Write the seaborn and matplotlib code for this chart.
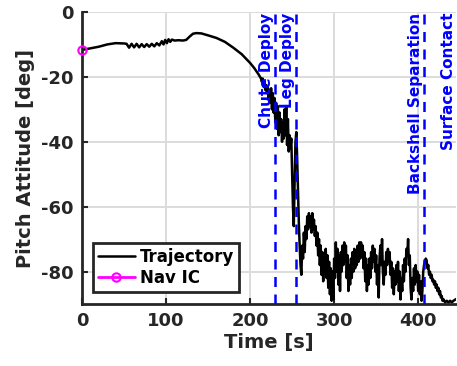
import numpy as np
import pandas as pd
import matplotlib
matplotlib.use("Agg")
import matplotlib.pyplot as plt
import seaborn as sns

# Trajectory: time [s] and pitch attitude [deg]
time_s = [0, 10, 20, 30, 40, 50, 53, 56, 59, 62, 65, 68, 71, 74, 77, 80, 83, 86, 89, 92, 95, 97, 99,
          101, 103, 105, 107, 110, 115, 120, 124, 128, 132, 136, 142, 150, 160, 170, 180, 190, 200,
          205, 210, 213,
          214, 215, 216, 217, 218, 219, 220, 221, 222, 223, 224, 225, 226, 227, 228, 229, 230, 231,
          232, 233, 234, 235, 236, 237, 238, 239, 240, 241, 242, 243, 244, 245, 246, 247, 248, 249,
          250, 251, 252, 253, 254, 255, 256, 257, 258, 259, 260, 261, 262, 263, 264, 265, 266, 267,
          268, 269, 270, 271, 272, 273, 274, 275, 276, 277, 278, 279, 280, 281, 282, 283, 284, 285,
          286, 287, 288, 289, 290, 291, 292, 293, 294, 295, 296, 297, 298, 299, 300, 301, 302, 303,
          304, 305, 306, 307, 308, 309, 310, 311, 312, 313, 314, 315, 316, 317, 318, 319, 320, 321,
          322, 323, 324, 325, 326, 327, 328, 329, 330, 331, 332, 333, 334, 335, 336, 337, 338, 339,
          340, 341, 342, 343, 344, 345, 346, 347, 348, 349, 350, 351, 352, 353, 354, 355, 356, 357,
          358, 359, 360, 361, 362, 363, 364, 365, 366, 367, 368, 369, 370, 371, 372, 373, 374, 375,
          376, 377, 378, 379, 380, 381, 382, 383, 384, 385, 386, 387, 388, 389, 390, 391, 392, 393,
          394, 395, 396, 397, 398, 399, 400, 401, 402, 403, 404, 405, 406, 407, 408, 409, 410, 411,
          412, 413, 414, 415, 416, 417, 418, 419, 420, 421, 422, 423, 424, 425, 426, 427, 428, 429,
          430, 432, 434, 436, 438, 440, 442, 445]
pitch_deg = [-11.7, -11.2, -10.7, -10.0, -9.6, -9.7, -9.8, -11.0, -9.8, -10.9, -9.8, -10.9, -9.9,
             -10.8, -9.9, -10.7, -9.8, -10.6, -9.6, -10.3, -9.0, -10.0, -8.6,
             -9.6, -8.4, -9.2, -8.5, -8.8, -8.7, -8.8, -8.6, -7.6, -6.7, -6.5, -6.6, -7.2, -8.0,
             -9.2, -11.0, -13.0, -15.7, -17.3, -19.2, -20.5,
             -21.5, -20.5, -23, -21.5, -24, -22.5, -25, -23, -26.5, -24, -28, -23.5, -30, -25, -31,
             -26.5, -34, -28, -36, -29, -38, -31, -37, -33, -40, -34, -39, -30, -38, -29, -41, -33,
             -43, -38, -42, -39,
             -50, -60, -66, -52, -40, -37, -45, -55, -65, -72, -78, -81, -72, -76, -68, -74, -66,
             -70, -63, -67, -62, -66, -63, -68, -62, -67, -64, -69, -66, -72, -68, -75, -70, -78,
             -72, -81, -74, -83, -76, -80, -73, -82, -75, -85, -77, -87, -79, -89, -80, -88.6, -76,
             -82, -71, -80, -73, -84, -75, -86, -74, -80, -72, -78, -71, -77, -72, -82, -75, -86,
             -78, -84, -76, -82, -74, -80, -73, -79, -74, -78, -72, -77, -71, -76, -71, -75, -72,
             -79, -74, -83, -76, -86, -78, -84, -76, -82, -74, -79, -72, -77, -73, -80, -75, -84,
             -78, -88, -76, -72, -78, -70, -80, -84, -77, -81, -74, -78, -73, -77, -74, -81, -77,
             -85, -79, -87, -80, -84, -78, -83, -77, -86, -80, -88.6, -82, -86, -78, -83, -76, -80,
             -73, -75, -70, -78, -75, -85, -88.6, -82, -86, -79, -84, -78, -83, -80, -86, -81, -87,
             -83, -89, -86, -80, -78, -77, -76, -76.5, -79, -78, -81, -80, -82, -81, -83, -82.5,
             -84, -83, -85, -84, -86, -85, -87, -86, -88, -87.5, -89, -88.5, -89.5, -89, -89.5,
             -89, -89.5, -89, -88.5]

nav_ic_time = [0]
nav_ic_pitch = [-11.7]

event_times = [230, 255, 407, 446]
event_labels = ["Chute Deploy", "Leg Deploy", "Backshell Separation", "Surface Contact"]

x_ticks = [0, 100, 200, 300, 400]
y_ticks = [0, -20, -40, -60, -80]

df = pd.DataFrame({"Time": time_s, "Pitch": pitch_deg})
df_ic = pd.DataFrame({"Time": nav_ic_time, "Pitch": nav_ic_pitch})

sns.set_style("whitegrid")
plt.rcParams["font.family"] = ["DejaVu Sans"]
dark = "#262626"

fig = plt.figure(figsize=(4.57, 3.66), dpi=100)
ax = fig.add_axes([82 / 457, 1 - 304 / 366, 374 / 457, 292 / 366])

sns.lineplot(data=df, x="Time", y="Pitch", ax=ax, color="black", linewidth=1.8,
             estimator=None, sort=False, label="Trajectory")
sns.lineplot(data=df_ic, x="Time", y="Pitch", ax=ax, color="magenta", linewidth=2,
             marker="o", markersize=6, markerfacecolor="none", markeredgecolor="magenta",
             markeredgewidth=1.5, estimator=None, label="Nav IC", zorder=5, clip_on=False)

for t, lab in zip(event_times, event_labels):
    ax.axvline(t, color="blue", linestyle=(0, (4, 3)), linewidth=1.8, zorder=4)
    ax.text(t - 1.5, -0.3, lab, rotation=90, ha="right", va="top", color="blue",
            fontsize=11, fontweight="bold", clip_on=False)

ax.set_xlim(0, 445)
ax.set_ylim(-90, 0)
ax.set_xticks(x_ticks)
ax.set_yticks(y_ticks)
ax.set_xticklabels([str(v) for v in x_ticks], fontsize=13, fontweight="bold", color=dark)
ax.set_yticklabels([str(v) for v in y_ticks], fontsize=13, fontweight="bold", color=dark)
ax.set_xlabel("Time [s]", fontsize=14, fontweight="bold", color=dark, labelpad=2)
ax.set_ylabel("Pitch Attitude [deg]", fontsize=14, fontweight="bold", color=dark, labelpad=4)

ax.grid(True, color="#dcdcdc", linewidth=1.4)
for s in ["top", "right"]:
    ax.spines[s].set_visible(False)
for s in ["left", "bottom"]:
    ax.spines[s].set_visible(True)
    ax.spines[s].set_color(dark)
    ax.spines[s].set_linewidth(2)
ax.tick_params(axis="both", direction="in", length=4, width=1.5, color=dark, pad=6,
               left=True, bottom=True)

leg = ax.legend(loc="lower left", bbox_to_anchor=(11 / 374, 12 / 292), borderaxespad=0,
                fancybox=False, frameon=True, handlelength=2.2, handletextpad=0.3,
                labelspacing=0.2, borderpad=0.3,
                prop={"weight": "bold", "size": 12})
leg.get_frame().set_edgecolor(dark)
leg.get_frame().set_linewidth(2)
leg.get_frame().set_alpha(1)
for txt in leg.get_texts():
    txt.set_color("black")

fig.savefig("out.png", dpi=100)
